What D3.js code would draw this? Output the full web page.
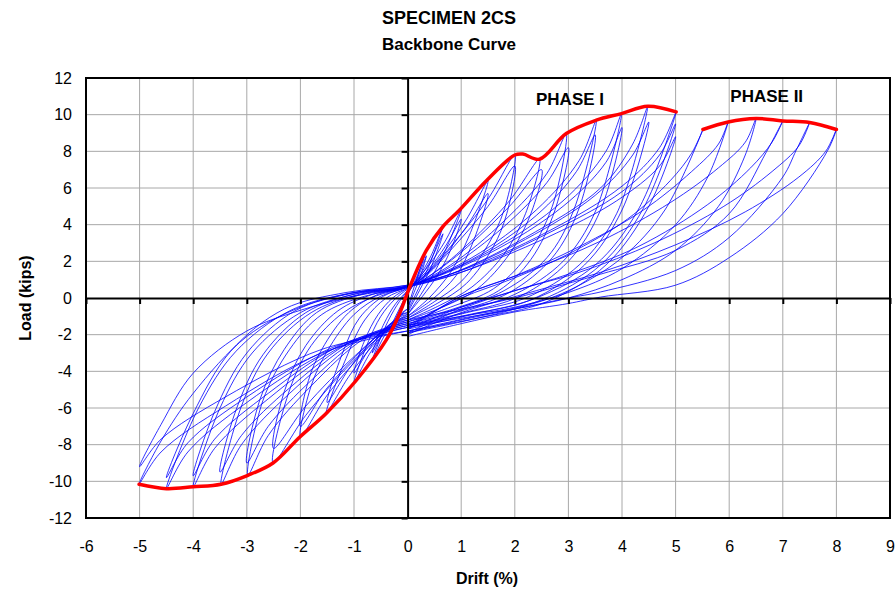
<!DOCTYPE html>
<html>
<head>
<meta charset="utf-8">
<script src="https://cdn.jsdelivr.net/npm/d3@7"></script>
<style>
body { margin: 0; background: #fff; }
text { font-family: "Liberation Sans", Arial, sans-serif; }
</style>
</head>
<body>
<div id="chart"></div>
<script>
// tick values
var xTicks = [-6, -5, -4, -3, -2, -1, 0, 1, 2, 3, 4, 5, 6, 7, 8, 9];
var yTicks = [-12, -10, -8, -6, -4, -2, 0, 2, 4, 6, 8, 10, 12];

// backbone curves [drift %, load kips]
var backbonePhase1 = [[-5.01,-10.16],[-4.5,-10.4],[-4.0,-10.3],[-3.48,-10.16],[-2.98,-9.67],[-2.51,-9.0],[-2.01,-7.58],[-1.52,-6.3],[-0.96,-4.5],[-0.4,-2.3],[-0.15,-0.85],[0.04,0.6],[0.35,2.6],[0.66,3.9],[0.97,4.8],[1.47,6.4],[2.0,7.8],[2.15,7.85],[2.46,7.57],[2.96,8.97],[3.52,9.7],[3.99,10.06],[4.48,10.46],[5.01,10.15]];
var backbonePhase2 = [[5.51,9.19],[5.98,9.6],[6.5,9.79],[7.0,9.66],[7.5,9.57],[8.0,9.19]];

// phase I hysteresis cycles, grouped by drift level
var cyc035 = [
  [[0,-0.6],[0.1,0.4],[0.2,1.3],[0.35,2.6],[0.22,1.5],[0.08,0.6],[0,0.2],[-0.1,-0.4],[-0.22,-1.1],[-0.35,-2.0],[-0.22,-1.3],[-0.08,-0.8],[0,-0.6]],
  [[0,-0.6],[0.12,0.3],[0.24,1.2],[0.35,2.3],[0.2,1.2],[0.06,0.5],[0,0.3],[-0.12,-0.4],[-0.24,-1.1],[-0.35,-1.8],[-0.2,-1.1],[-0.06,-0.7],[0,-0.6]]
];
var cyc066 = [
  [[0,-0.7],[0.2,0.5],[0.42,1.9],[0.66,3.9],[0.42,2.2],[0.15,0.9],[0,0.4],[-0.2,-0.4],[-0.42,-1.6],[-0.66,-3.4],[-0.42,-2.0],[-0.15,-1.0],[0,-0.8]],
  [[0,-0.8],[0.22,0.4],[0.44,1.7],[0.66,3.5],[0.4,1.9],[0.14,0.8],[0,0.4],[-0.22,-0.3],[-0.44,-1.4],[-0.66,-3.0],[-0.4,-1.7],[-0.12,-0.9],[0,-0.8]]
];
var cyc100 = [
  [[0,-0.9],[0.25,0.2],[0.5,1.4],[0.75,2.9],[1.0,4.8],[0.7,3.1],[0.4,1.8],[0.12,0.8],[0,0.5],[-0.25,-0.1],[-0.5,-1.0],[-0.75,-2.5],[-1.0,-4.6],[-0.7,-3.0],[-0.4,-1.8],[-0.12,-1.1],[0,-0.9]],
  [[0,-0.9],[0.28,0.1],[0.55,1.2],[0.8,2.6],[1.0,4.3],[0.7,2.8],[0.4,1.6],[0.12,0.8],[0,0.55],[-0.28,0.0],[-0.55,-0.9],[-0.8,-2.3],[-1.0,-4.1],[-0.7,-2.7],[-0.4,-1.6],[-0.12,-1.0],[0,-0.9]]
];
var cyc150 = [
  [[0,-1.0],[0.4,0.0],[0.8,1.4],[1.15,3.4],[1.5,6.4],[1.1,4.3],[0.65,2.4],[0.2,0.9],[0,0.55],[-0.4,0.0],[-0.8,-1.2],[-1.15,-3.3],[-1.52,-6.3],[-1.1,-4.3],[-0.65,-2.6],[-0.2,-1.3],[0,-1.0]],
  [[0,-1.0],[0.45,-0.1],[0.9,1.2],[1.2,2.9],[1.5,5.7],[1.1,3.9],[0.65,2.2],[0.2,0.9],[0,0.6],[-0.45,0.1],[-0.9,-1.1],[-1.2,-2.9],[-1.5,-5.7],[-1.1,-3.9],[-0.65,-2.3],[-0.2,-1.2],[0,-1.0]]
];
var cyc200 = [
  [[0,-1.1],[0.5,-0.2],[1.0,0.9],[1.5,2.9],[1.8,4.8],[2.0,7.8],[1.5,5.4],[0.8,2.8],[0.3,1.2],[0,0.6],[-0.5,0.1],[-1.0,-0.9],[-1.5,-2.9],[-1.8,-4.8],[-2.0,-7.58],[-1.5,-5.3],[-0.8,-2.9],[-0.3,-1.5],[0,-1.1]],
  [[0,-1.1],[0.55,-0.3],[1.1,0.8],[1.6,2.8],[1.85,4.6],[2.0,7.2],[1.5,5.0],[0.8,2.6],[0.3,1.1],[0,0.6],[-0.55,0.2],[-1.1,-0.8],[-1.6,-2.8],[-1.85,-4.5],[-2.0,-7.0],[-1.5,-4.9],[-0.8,-2.7],[-0.3,-1.4],[0,-1.1]]
];
var cyc250 = [
  [[0,-1.2],[0.6,-0.4],[1.2,0.6],[1.8,2.4],[2.2,4.6],[2.46,7.57],[1.9,5.3],[1.0,2.6],[0.3,1.0],[0,0.6],[-0.6,0.1],[-1.2,-0.8],[-1.8,-2.6],[-2.2,-5.0],[-2.51,-9.0],[-1.9,-6.4],[-1.0,-3.4],[-0.3,-1.6],[0,-1.2]],
  [[0,-1.2],[0.65,-0.5],[1.3,0.5],[1.9,2.4],[2.3,4.6],[2.5,7.0],[1.9,5.0],[1.0,2.5],[0.3,1.0],[0,0.6],[-0.65,0.2],[-1.3,-0.7],[-1.9,-2.6],[-2.3,-5.1],[-2.5,-8.2],[-1.9,-5.9],[-1.0,-3.2],[-0.3,-1.5],[0,-1.2]]
];
var cyc300 = [
  [[0,-1.3],[0.8,-0.5],[1.6,0.5],[2.2,2.2],[2.7,5.0],[2.96,8.97],[2.6,6.8],[1.8,4.2],[0.8,1.8],[0,0.6],[-0.8,0.1],[-1.6,-0.9],[-2.2,-2.8],[-2.7,-5.6],[-2.98,-9.67],[-2.6,-7.5],[-1.8,-4.8],[-0.8,-2.2],[0,-1.3]],
  [[0,-1.3],[0.85,-0.6],[1.7,0.4],[2.3,2.1],[2.75,4.8],[3.0,8.2],[2.6,6.3],[1.8,3.9],[0.8,1.7],[0,0.6],[-0.85,0.2],[-1.7,-0.8],[-2.3,-2.8],[-2.75,-5.5],[-3.0,-9.0],[-2.6,-7.0],[-1.8,-4.5],[-0.8,-2.1],[0,-1.3]]
];
var cyc350 = [
  [[0,-1.4],[0.9,-0.6],[1.8,0.4],[2.6,2.2],[3.1,4.8],[3.52,9.7],[3.2,7.5],[2.4,4.8],[1.2,2.2],[0,0.65],[-0.9,0.2],[-1.8,-0.8],[-2.6,-3.0],[-3.1,-5.9],[-3.48,-10.16],[-3.1,-8.0],[-2.2,-5.2],[-1.0,-2.4],[0,-1.4]],
  [[0,-1.4],[0.95,-0.7],[1.9,0.3],[2.7,2.2],[3.2,4.9],[3.5,8.9],[3.15,6.9],[2.4,4.5],[1.2,2.1],[0,0.65],[-0.95,0.25],[-1.9,-0.8],[-2.7,-3.1],[-3.2,-6.1],[-3.5,-9.5],[-3.1,-7.5],[-2.2,-4.9],[-1.0,-2.3],[0,-1.4]]
];
var cyc400 = [
  [[0,-1.5],[1.0,-0.7],[2.0,0.2],[2.9,2.0],[3.5,4.7],[3.99,10.06],[3.7,8.0],[2.9,5.3],[1.5,2.5],[0,0.65],[-1.0,0.2],[-2.0,-0.8],[-2.9,-3.0],[-3.5,-6.0],[-4.0,-10.3],[-3.6,-8.2],[-2.6,-5.5],[-1.2,-2.6],[0,-1.5]],
  [[0,-1.5],[1.05,-0.8],[2.1,0.1],[3.0,2.0],[3.6,4.8],[4.0,9.3],[3.7,7.4],[2.9,5.0],[1.5,2.4],[0,0.65],[-1.05,0.25],[-2.1,-0.7],[-3.0,-3.0],[-3.6,-6.2],[-4.0,-9.7],[-3.6,-7.7],[-2.6,-5.2],[-1.2,-2.5],[0,-1.5]]
];
var cyc450 = [
  [[0,-1.6],[1.1,-0.8],[2.2,0.0],[3.2,1.8],[3.9,4.6],[4.48,10.46],[4.2,8.4],[3.6,6.0],[2.2,3.3],[0.8,1.3],[0,0.65],[-1.1,0.25],[-2.2,-0.7],[-3.2,-2.9],[-3.9,-6.0],[-4.5,-10.4],[-4.1,-8.4],[-3.0,-5.7],[-1.4,-2.8],[0,-1.6]],
  [[0,-1.6],[1.15,-0.9],[2.3,-0.1],[3.3,1.8],[4.0,4.8],[4.5,9.6],[4.2,7.8],[3.5,5.6],[2.2,3.2],[0.8,1.3],[0,0.7],[-1.15,0.3],[-2.3,-0.6],[-3.3,-2.9],[-4.0,-6.3],[-4.5,-9.8],[-4.1,-7.9],[-3.0,-5.4],[-1.4,-2.7],[0,-1.6]]
];
var cyc500 = [
  [[0,-1.7],[1.2,-0.9],[2.4,0.0],[3.5,1.8],[4.3,4.8],[5.01,10.15],[4.7,8.2],[4.0,6.1],[2.6,3.6],[1.0,1.5],[0,0.7],[-1.0,0.3],[-2.0,-0.5],[-3.0,-2.1],[-4.0,-5.2],[-4.6,-7.8],[-5.01,-10.16],[-4.6,-8.4],[-3.4,-5.9],[-1.6,-3.0],[0,-1.8]],
  [[0,-1.8],[1.25,-1.0],[2.5,-0.1],[3.6,1.8],[4.4,4.9],[5.0,9.5],[4.7,7.8],[4.0,5.8],[2.6,3.5],[1.0,1.4],[0,0.6],[-1.0,0.1],[-2.0,-0.67],[-3.0,-1.8],[-4.0,-4.1],[-4.6,-6.9],[-5.0,-9.2],[-4.6,-7.7],[-3.4,-5.4],[-1.6,-2.8],[0,-1.8]],
  [[0,-1.8],[1.3,-1.1],[2.6,-0.2],[3.7,1.8],[4.5,5.0],[5.0,8.8],[4.7,7.2],[3.9,5.3],[2.6,3.3],[1.0,1.4],[0,0.6]]
];

// phase II cycles (positive direction only)
var cycP2 = [
  [[0,-1.9],[1,-1.3],[2,-0.6],[3,0.4],[4,2.2],[4.8,4.8],[5.51,9.19],[5.3,7.9],[4.9,6.4],[4.1,4.3],[3,2.4],[2,1.1],[1,0.0],[0,-1.5]],
  [[0,-1.5],[1,-1.0],[2,-0.5],[3,0.3],[4,1.6],[5,4.0],[5.6,6.6],[5.98,9.6],[5.8,8.4],[5.3,6.9],[4.4,4.8],[3.2,2.8],[2,1.2],[1,0.1],[0,-1.6]],
  [[0,-1.6],[1,-1.1],[2,-0.6],[3,0.0],[4,1.0],[5,2.6],[5.8,5.0],[6.3,7.8],[6.5,9.79],[6.3,8.5],[5.8,7.1],[4.9,5.2],[3.6,3.1],[2.2,1.4],[1,0.1],[0,-1.7]],
  [[0,-1.2],[1,-0.6],[2,0.0],[3,0.8],[3.6,1.3],[5,2.6],[6,4.6],[6.7,8.0],[7.0,9.66],[6.8,8.5],[6.4,7.1],[5.6,5.1],[4.3,2.8],[3,1.3],[2,0.4],[1,-0.5],[0,-1.7]],
  [[0,-1.9],[1,-1.2],[2,-0.6],[3,0.0],[3.6,0.33],[5,1.5],[6,3.3],[7,6.6],[7.25,8.06],[7.5,9.57],[7.3,8.3],[6.8,6.9],[5.9,5.0],[4.6,3.0],[3.2,1.4],[2,0.4],[1,-0.6],[0,-1.9]],
  [[0,-2.1],[1,-1.4],[2,-0.76],[3,-0.3],[3.6,0.05],[5,0.7],[6,2.2],[7,4.6],[7.84,8.06],[8.0,9.2],[7.8,8.0],[7.3,6.6],[6.3,4.7],[5,2.9],[3.6,1.4],[2.4,0.4],[1,-0.8],[0,-2.0]]
];

var allCycles = [].concat(cyc035, cyc066, cyc100, cyc150, cyc200, cyc250,
                          cyc300, cyc350, cyc400, cyc450, cyc500, cycP2);

var margin = { top: 78, right: 6, bottom: 74, left: 86 },
    width = 896 - margin.left - margin.right,
    height = 592 - margin.top - margin.bottom;

var svg = d3.select("#chart").append("svg")
    .attr("width", 896)
    .attr("height", 592);

var g = svg.append("g")
    .attr("transform", "translate(" + margin.left + "," + margin.top + ")");

var xScale = d3.scaleLinear().domain([-6, 9]).range([0, width]);
var yScale = d3.scaleLinear().domain([-12, 12]).range([height, 0]);

// gridlines
g.selectAll(".vgrid")
    .data(xTicks.filter(function (d) { return d !== 0; }))
    .enter().append("line")
    .attr("x1", function (d) { return xScale(d); })
    .attr("x2", function (d) { return xScale(d); })
    .attr("y1", 0).attr("y2", height)
    .attr("stroke", "#a8a8a8").attr("stroke-width", 1);

g.selectAll(".hgrid")
    .data(yTicks.filter(function (d) { return d !== 0; }))
    .enter().append("line")
    .attr("x1", 0).attr("x2", width)
    .attr("y1", function (d) { return yScale(d); })
    .attr("y2", function (d) { return yScale(d); })
    .attr("stroke", "#a8a8a8").attr("stroke-width", 1);

// tick labels (plain hyphen minus like the original)
var plainNum = function (d) { return String(d); };
var xLabels = g.append("g")
    .attr("transform", "translate(0," + height + ")")
    .call(d3.axisBottom(xScale).tickValues(xTicks).tickSize(0).tickPadding(23).tickFormat(plainNum));
var yLabels = g.append("g")
    .call(d3.axisLeft(yScale).tickValues(yTicks).tickSize(0).tickPadding(14).tickFormat(plainNum));
[xLabels, yLabels].forEach(function (a) {
    a.select(".domain").remove();
    a.selectAll("text")
        .style("font-family", "'Liberation Sans', Arial, sans-serif")
        .style("font-size", "16px")
        .attr("fill", "#000");
});

// hysteresis loops
var loopLine = d3.line()
    .x(function (d) { return xScale(d[0]); })
    .y(function (d) { return yScale(d[1]); })
    .curve(d3.curveCatmullRom.alpha(0.5));

g.append("g").selectAll("path")
    .data(allCycles)
    .enter().append("path")
    .attr("d", loopLine)
    .attr("fill", "none")
    .attr("stroke", "#0000ff")
    .attr("stroke-opacity", 0.8)
    .attr("stroke-width", 1);

// zero axes with crossing ticks
var zeroX = g.append("g")
    .attr("transform", "translate(0," + yScale(0) + ")")
    .call(d3.axisBottom(xScale).tickValues(xTicks).tickSize(6).tickSizeOuter(0).tickFormat(""));
var zeroY = g.append("g")
    .attr("transform", "translate(" + xScale(0) + ",0)")
    .call(d3.axisLeft(yScale).tickValues(yTicks).tickSize(6).tickSizeOuter(0).tickFormat(""));
[zeroX, zeroY].forEach(function (a) {
    a.select(".domain").attr("stroke", "#000").attr("stroke-width", 2);
    a.selectAll(".tick line").attr("stroke", "#000").attr("stroke-width", 2);
});

// backbone
g.selectAll(".backbone")
    .data([backbonePhase1, backbonePhase2])
    .enter().append("path")
    .attr("d", loopLine)
    .attr("fill", "none")
    .attr("stroke", "#ff0000")
    .attr("stroke-width", 3.5)
    .attr("stroke-linejoin", "round")
    .attr("stroke-linecap", "round");

// frame
g.append("rect")
    .attr("width", width).attr("height", height)
    .attr("fill", "none").attr("stroke", "#000").attr("stroke-width", 2);

// annotations
g.append("text").attr("x", xScale(3.03)).attr("y", yScale(10.55))
    .attr("text-anchor", "middle").attr("font-weight", "bold").attr("font-size", 17)
    .text("PHASE I");
g.append("text").attr("x", xScale(6.7)).attr("y", yScale(10.7))
    .attr("text-anchor", "middle").attr("font-weight", "bold").attr("font-size", 17)
    .text("PHASE II");

// titles
svg.append("text").attr("x", 449).attr("y", 24)
    .attr("text-anchor", "middle").attr("font-weight", "bold").attr("font-size", 18)
    .text("SPECIMEN 2CS");
svg.append("text").attr("x", 449).attr("y", 50)
    .attr("text-anchor", "middle").attr("font-weight", "bold").attr("font-size", 17)
    .text("Backbone Curve");
svg.append("text").attr("x", margin.left + width / 2 - 1).attr("y", 584)
    .attr("text-anchor", "middle").attr("font-weight", "bold").attr("font-size", 16)
    .text("Drift (%)");
svg.append("text")
    .attr("transform", "translate(31," + (margin.top + height / 2) + ") rotate(-90)")
    .attr("text-anchor", "middle").attr("font-weight", "bold").attr("font-size", 16)
    .text("Load (kips)");
</script>
</body>
</html>
